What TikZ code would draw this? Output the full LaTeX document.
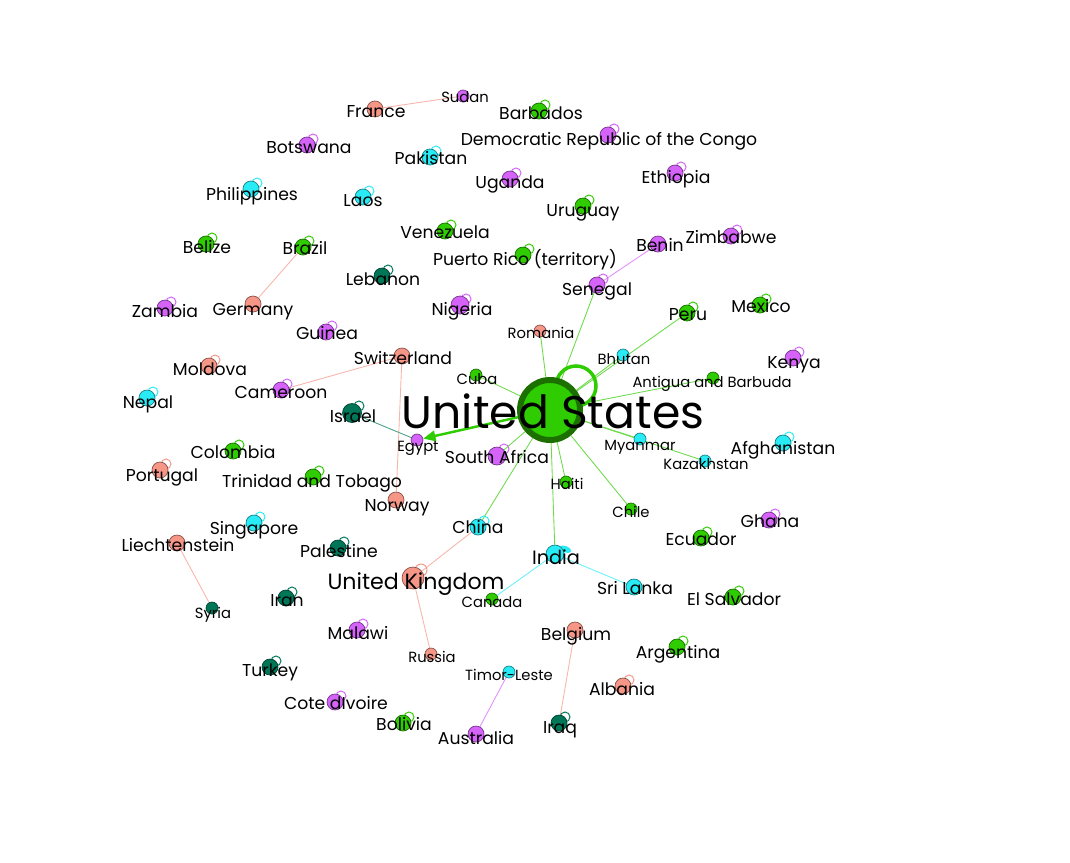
\documentclass[tikz,border=0pt]{standalone}
\usepackage{fontspec}
\setmainfont{Poppins}
\usetikzlibrary{arrows.meta,backgrounds}

\definecolor{grn}{RGB}{46,204,0}
\definecolor{usrim}{RGB}{28,112,0}
\definecolor{prp}{RGB}{213,99,250}
\definecolor{slm}{RGB}{245,150,135}
\definecolor{cyn}{RGB}{40,235,245}
\definecolor{tea}{RGB}{0,118,88}

\tikzset{
  vtx/.style={circle,inner sep=0pt,minimum size=0.32cm,fill=#1,draw=#1!55!black,line width=0.4pt},
  svtx/.style={vtx=#1,minimum size=0.24cm},
  selfloop/.style={draw=#1,line width=0.55pt},
  edg/.style={draw=#1!70,line width=0.5pt},
  lbl/.style={inner sep=0pt,text height=6.8pt,text depth=0pt,font=\fontsize{9.8}{11}\selectfont},
  slbl/.style={inner sep=0pt,text height=5.9pt,text depth=0pt,font=\fontsize{8.4}{10}\selectfont}
}

\begin{document}
\begin{tikzpicture}[x=0.02cm,y=-0.02cm]
\useasboundingbox (0,0) rectangle (1070,862);

% countries
\node (us) at (550,410) [circle,inner sep=0pt,minimum size=1.2cm,fill=grn,draw=usrim,line width=3.4pt] {};
\node (sudan) at (463,96) [svtx=prp] {};
\node (france) at (375,109) [vtx=slm] {};
\node (barbados) at (539,111) [vtx=grn] {};
\node (drc) at (608,135) [vtx=prp] {};
\node (botswana) at (307,145) [vtx=prp] {};
\node (pakistan) at (430,157) [vtx=cyn] {};
\node (uganda) at (510,179) [vtx=prp] {};
\node (ethiopia) at (675,173) [vtx=prp] {};
\node (philippines) at (251,189) [vtx=cyn] {};
\node (laos) at (363,197) [vtx=cyn] {};
\node (uruguay) at (583,206) [vtx=grn] {};
\node (venezuela) at (445,231) [vtx=grn] {};
\node (belize) at (206,244) [vtx=grn] {};
\node (brazil) at (303,247) [vtx=grn] {};
\node (benin) at (658,244) [vtx=prp] {};
\node (zimbabwe) at (731,236) [vtx=prp] {};
\node (puertorico) at (523,255) [vtx=grn] {};
\node (lebanon) at (382,276) [vtx=tea] {};
\node (senegal) at (597,285) [vtx=prp] {};
\node (germany) at (253,304) [vtx=slm] {};
\node (zambia) at (165,308) [vtx=prp] {};
\node (nigeria) at (460,305) [vtx=prp,minimum size=0.36cm] {};
\node (peru) at (687,313) [vtx=grn] {};
\node (mexico) at (760,305) [vtx=grn] {};
\node (guinea) at (326,332) [vtx=prp] {};
\node (romania) at (540,331) [svtx=slm] {};
\node (switzerland) at (402,356) [vtx=slm] {};
\node (moldova) at (209,366) [vtx=slm] {};
\node (bhutan) at (623,355) [svtx=cyn] {};
\node (kenya) at (793,358) [vtx=prp] {};
\node (cuba) at (476,375) [svtx=grn] {};
\node (antigua) at (713,378) [svtx=grn] {};
\node (cameroon) at (281,390) [vtx=prp] {};
\node (nepal) at (147,398) [vtx=cyn] {};
\node (israel) at (352,413) [vtx=tea,minimum size=0.38cm] {};
\node (egypt) at (417,440) [svtx=prp] {};
\node (myanmar) at (640,439) [svtx=cyn] {};
\node (kazakhstan) at (705,461) [svtx=cyn] {};
\node (afghanistan) at (783,443) [vtx=cyn] {};
\node (colombia) at (233,451) [vtx=grn] {};
\node (southafrica) at (497,456) [vtx=prp,minimum size=0.36cm] {};
\node (haiti) at (566,482) [svtx=grn] {};
\node (portugal) at (160,470) [vtx=slm] {};
\node (trinidad) at (313,477) [vtx=grn] {};
\node (norway) at (396,500) [vtx=slm] {};
\node (chile) at (631,509) [svtx=grn] {};
\node (ghana) at (769,520) [vtx=prp] {};
\node (singapore) at (254,523) [vtx=cyn] {};
\node (china) at (478,527) [vtx=cyn] {};
\node (ecuador) at (701,538) [vtx=grn] {};
\node (liechtenstein) at (177,543) [vtx=slm] {};
\node (palestine) at (338,548) [vtx=tea] {};
\node (india) at (555,554) [vtx=cyn,minimum size=0.36cm] {};
\node (uk) at (413,578) [vtx=slm,minimum size=0.44cm] {};
\node (srilanka) at (634,587) [vtx=cyn] {};
\node (elsalvador) at (733,597) [vtx=grn] {};
\node (canada) at (492,599) [svtx=grn] {};
\node (iran) at (286,598) [vtx=tea] {};
\node (syria) at (212,608) [svtx=tea] {};
\node (malawi) at (357,630) [vtx=prp] {};
\node (belgium) at (575,630) [vtx=slm] {};
\node (argentina) at (677,647) [vtx=grn] {};
\node (russia) at (431,654) [svtx=slm] {};
\node (turkey) at (270,667) [vtx=tea] {};
\node (timor) at (509,672) [svtx=cyn] {};
\node (albania) at (623,686) [vtx=slm] {};
\node (cotedivoire) at (335,702) [vtx=prp] {};
\node (iraq) at (559,723) [vtx=tea] {};
\node (bolivia) at (403,723) [vtx=grn] {};
\node (australia) at (476,734) [vtx=prp] {};

\begin{scope}[on background layer]
% ties
\draw[edg=grn] (us) -- (senegal);
\draw[edg=grn] (us) -- (romania);
\draw[edg=grn] (us) -- (peru);
\draw[edg=grn] (us) -- (bhutan);
\draw[edg=grn] (us) -- (antigua);
\draw[edg=grn] (us) -- (cuba);
\draw[edg=grn] (us) -- (myanmar);
\draw[edg=grn] (us) -- (kazakhstan);
\draw[edg=grn] (us) -- (chile);
\draw[edg=grn] (us) -- (haiti);
\draw[edg=grn] (us) -- (india);
\draw[edg=grn] (us) -- (china);
\draw[edg=grn] (us) -- (southafrica);
\draw[draw=grn,line width=1.4pt,-{Triangle[length=7pt,width=6pt]}] (us) -- (egypt);
\draw[edg=prp] (senegal) -- (benin);
\draw[edg=slm] (france) -- (sudan);
\draw[edg=slm] (germany) -- (brazil);
\draw[edg=slm] (switzerland) -- (cameroon);
\draw[edg=slm] (switzerland) -- (norway);
\draw[edg=tea] (israel) -- (egypt);
\draw[edg=slm] (uk) -- (china);
\draw[edg=slm] (uk) -- (russia);
\draw[edg=slm] (liechtenstein) -- (syria);
\draw[edg=cyn] (india) -- (canada);
\draw[edg=cyn] (india) -- (srilanka);
\draw[edg=slm] (belgium) -- (iraq);
\draw[edg=prp] (australia) -- (timor);

% self ties
\draw[draw=grn,line width=2pt] ([shift={(26,-24)}]us.center) circle (0.4cm);
\draw[draw=cyn,fill=cyn,line width=0.8pt,rotate=-20] ([shift={(8,-8)}]india.center) ellipse (0.11cm and 0.05cm);
\draw[selfloop=grn] ([shift={(6,-6)}]barbados.center) circle (0.1cm);
\draw[selfloop=prp] ([shift={(6,-6)}]drc.center) circle (0.1cm);
\draw[selfloop=prp] ([shift={(6,-6)}]botswana.center) circle (0.1cm);
\draw[selfloop=cyn] ([shift={(6,-6)}]pakistan.center) circle (0.1cm);
\draw[selfloop=prp] ([shift={(6,-6)}]uganda.center) circle (0.1cm);
\draw[selfloop=prp] ([shift={(6,-6)}]ethiopia.center) circle (0.1cm);
\draw[selfloop=cyn] ([shift={(6,-6)}]philippines.center) circle (0.1cm);
\draw[selfloop=cyn] ([shift={(6,-6)}]laos.center) circle (0.1cm);
\draw[selfloop=grn] ([shift={(6,-6)}]uruguay.center) circle (0.1cm);
\draw[selfloop=grn] ([shift={(6,-6)}]venezuela.center) circle (0.1cm);
\draw[selfloop=grn] ([shift={(6,-6)}]belize.center) circle (0.1cm);
\draw[selfloop=grn] ([shift={(6,-6)}]brazil.center) circle (0.1cm);
\draw[selfloop=prp] ([shift={(6,-6)}]zimbabwe.center) circle (0.1cm);
\draw[selfloop=grn] ([shift={(6,-6)}]puertorico.center) circle (0.1cm);
\draw[selfloop=tea] ([shift={(6,-6)}]lebanon.center) circle (0.1cm);
\draw[selfloop=prp] ([shift={(6,-6)}]senegal.center) circle (0.1cm);
\draw[selfloop=prp] ([shift={(6,-6)}]zambia.center) circle (0.1cm);
\draw[selfloop=prp] ([shift={(6,-6)}]nigeria.center) circle (0.1cm);
\draw[selfloop=grn] ([shift={(6,-6)}]peru.center) circle (0.1cm);
\draw[selfloop=grn] ([shift={(6,-6)}]mexico.center) circle (0.1cm);
\draw[selfloop=prp] ([shift={(6,-6)}]guinea.center) circle (0.1cm);
\draw[selfloop=slm] ([shift={(6,-6)}]moldova.center) circle (0.1cm);
\draw[selfloop=prp] ([shift={(6,-6)}]kenya.center) circle (0.1cm);
\draw[selfloop=prp] ([shift={(6,-6)}]cameroon.center) circle (0.1cm);
\draw[selfloop=cyn] ([shift={(6,-6)}]nepal.center) circle (0.1cm);
\draw[selfloop=tea] ([shift={(7,-7)}]israel.center) circle (0.1cm);
\draw[selfloop=cyn] ([shift={(6,-6)}]afghanistan.center) circle (0.1cm);
\draw[selfloop=grn] ([shift={(6,-6)}]colombia.center) circle (0.1cm);
\draw[selfloop=prp] ([shift={(7,-7)}]southafrica.center) circle (0.1cm);
\draw[selfloop=slm] ([shift={(6,-6)}]portugal.center) circle (0.1cm);
\draw[selfloop=grn] ([shift={(6,-6)}]trinidad.center) circle (0.1cm);
\draw[selfloop=prp] ([shift={(6,-6)}]ghana.center) circle (0.1cm);
\draw[selfloop=cyn] ([shift={(6,-6)}]singapore.center) circle (0.1cm);
\draw[selfloop=cyn] ([shift={(6,-6)}]china.center) circle (0.1cm);
\draw[selfloop=grn] ([shift={(6,-6)}]ecuador.center) circle (0.1cm);
\draw[selfloop=tea] ([shift={(6,-6)}]palestine.center) circle (0.1cm);
\draw[selfloop=slm] ([shift={(8,-8)}]uk.center) circle (0.12cm);
\draw[selfloop=grn] ([shift={(6,-6)}]elsalvador.center) circle (0.1cm);
\draw[selfloop=tea] ([shift={(6,-6)}]iran.center) circle (0.1cm);
\draw[selfloop=prp] ([shift={(6,-6)}]malawi.center) circle (0.1cm);
\draw[selfloop=grn] ([shift={(6,-6)}]argentina.center) circle (0.1cm);
\draw[selfloop=tea] ([shift={(6,-6)}]turkey.center) circle (0.1cm);
\draw[selfloop=slm] ([shift={(6,-6)}]albania.center) circle (0.1cm);
\draw[selfloop=prp] ([shift={(6,-6)}]cotedivoire.center) circle (0.1cm);
\draw[selfloop=tea] ([shift={(6,-6)}]iraq.center) circle (0.1cm);
\draw[selfloop=grn] ([shift={(6,-6)}]bolivia.center) circle (0.1cm);
\end{scope}

% names
\node (l-sudan) at (465,97) [slbl] {Sudan};
\node (l-france) at (376,112) [lbl] {France};
\node (l-barbados) at (541,114) [lbl] {Barbados};
\node (l-drc) at (609,140) [lbl] {Democratic Republic of the Congo};
\node (l-botswana) at (309,148) [lbl] {Botswana};
\node (l-pakistan) at (431,159) [lbl] {Pakistan};
\node (l-uganda) at (510,183) [lbl] {Uganda};
\node (l-ethiopia) at (676,178) [lbl] {Ethiopia};
\node (l-philippines) at (252,195) [lbl] {Philippines};
\node (l-laos) at (363,201) [lbl] {Laos};
\node (l-uruguay) at (583,211) [lbl] {Uruguay};
\node (l-venezuela) at (445,233) [lbl] {Venezuela};
\node (l-belize) at (207,248) [lbl] {Belize};
\node (l-brazil) at (305,249) [lbl] {Brazil};
\node (l-benin) at (660,246) [lbl] {Benin};
\node (l-zimbabwe) at (731,238) [lbl] {Zimbabwe};
\node (l-puertorico) at (525,260) [lbl] {Puerto Rico (territory)};
\node (l-lebanon) at (383,280) [lbl] {Lebanon};
\node (l-senegal) at (597,290) [lbl] {Senegal};
\node (l-germany) at (253,310) [lbl] {Germany};
\node (l-zambia) at (165,312) [lbl] {Zambia};
\node (l-nigeria) at (462,310) [lbl] {Nigeria};
\node (l-peru) at (688,315) [lbl] {Peru};
\node (l-mexico) at (761,307) [lbl] {Mexico};
\node (l-guinea) at (327,334) [lbl] {Guinea};
\node (l-romania) at (541,333) [slbl] {Romania};
\node (l-switzerland) at (403,359) [lbl] {Switzerland};
\node (l-moldova) at (210,370) [lbl] {Moldova};
\node (l-bhutan) at (624,359) [slbl] {Bhutan};
\node (l-kenya) at (794,363) [lbl] {Kenya};
\node (l-cuba) at (477,379) [slbl] {Cuba};
\node (l-antigua) at (712,382) [slbl] {Antigua and Barbuda};
\node (l-cameroon) at (281,393) [lbl] {Cameroon};
\node (l-nepal) at (148,403) [lbl] {Nepal};
\node (l-israel) at (353,417) [lbl] {Israel};
\node (l-egypt) at (418,446) [slbl] {Egypt};
\node (l-myanmar) at (640,445) [slbl] {Myanmar};
\node (l-kazakhstan) at (706,464) [slbl] {Kazakhstan};
\node (l-afghanistan) at (783,449) [lbl] {Afghanistan};
\node (l-colombia) at (233,453) [lbl] {Colombia};
\node (l-southafrica) at (497,458) [lbl] {South Africa};
\node (l-haiti) at (567,484) [slbl] {Haiti};
\node (l-portugal) at (162,476) [lbl] {Portugal};
\node (l-trinidad) at (312,482) [lbl] {Trinidad and Tobago};
\node (l-norway) at (397,506) [lbl] {Norway};
\node (l-chile) at (631,512) [slbl] {Chile};
\node (l-ghana) at (770,522) [lbl] {Ghana};
\node (l-singapore) at (254,529) [lbl] {Singapore};
\node (l-china) at (478,528) [lbl] {China};
\node (l-ecuador) at (701,540) [lbl] {Ecuador};
\node (l-liechtenstein) at (178,546) [lbl] {Liechtenstein};
\node (l-palestine) at (339,552) [lbl] {Palestine};
\node (l-india) at (556,558) [lbl,text height=7.7pt,font=\fontsize{11}{13}\selectfont] {India};
\node (l-uk) at (416,582) [lbl,text height=8.8pt,font=\fontsize{12.6}{14}\selectfont] {United Kingdom};
\node (l-srilanka) at (635,589) [lbl] {Sri Lanka};
\node (l-elsalvador) at (734,600) [lbl] {El Salvador};
\node (l-canada) at (492,602) [slbl] {Canada};
\node (l-iran) at (287,601) [lbl] {Iran};
\node (l-syria) at (213,613) [slbl] {Syria};
\node (l-malawi) at (358,634) [lbl] {Malawi};
\node (l-belgium) at (576,635) [lbl] {Belgium};
\node (l-argentina) at (678,653) [lbl] {Argentina};
\node (l-russia) at (432,657) [slbl] {Russia};
\node (l-turkey) at (270,671) [lbl] {Turkey};
\node (l-timor) at (509,675) [slbl] {Timor-Leste};
\node (l-albania) at (622,690) [lbl] {Albania};
\node (l-cotedivoire) at (336,704) [lbl] {Cote dIvoire};
\node (l-iraq) at (560,728) [lbl] {Iraq};
\node (l-bolivia) at (404,725) [lbl] {Bolivia};
\node (l-australia) at (476,739) [lbl] {Australia};
\node (l-us) at (553,413) [lbl,text height=18.1pt,font=\fontsize{26}{29}\selectfont] {United States};

\end{tikzpicture}
\end{document}
